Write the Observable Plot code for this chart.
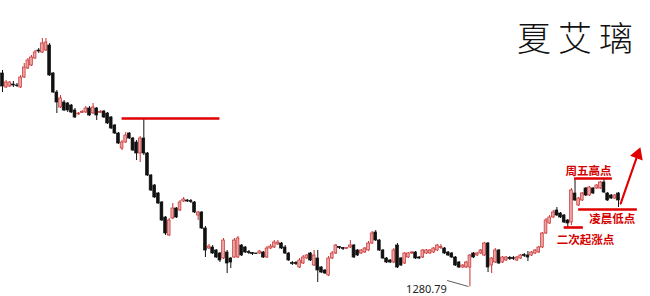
<!DOCTYPE html>
<html><head><meta charset="utf-8">
<script src="https://cdn.jsdelivr.net/npm/d3@7"></script>
<script src="https://cdn.jsdelivr.net/npm/@observablehq/plot@0.6"></script>
<style>
body{margin:0;background:#fff}
#wrap{position:relative;width:650px;height:296px}
#wrap svg{display:block}
#title{position:absolute;left:517px;top:20px;font-family:"Noto Sans CJK SC";font-weight:300;font-size:34px;line-height:34px;letter-spacing:7px;color:#111;white-space:nowrap}
</style>
</head><body><div id="wrap"><div id="title">夏艾璃</div></div>
<script>
const open=[1387.5,1380.5,1381,1382,1381.5,1380.5,1385.5,1390,1391.5,1395,1399,1398,1399,1401.5,1387.5,1378,1370.5,1373,1372.5,1371.5,1369,1367,1367.75,1368,1370,1367.5,1370,1367.75,1368.5,1367.5,1365.5,1361.5,1357.5,1350,1353,1357.5,1355,1353,1347.5,1355,1347.5,1336.5,1331.5,1327.5,1323,1315.5,1306.5,1315,1320,1319,1323.5,1324,1323.75,1323,1316.5,1318,1310,1300,1300.5,1299,1297.5,1295,1298,1295,1295.5,1295.5,1301.5,1300.5,1298.25,1297.75,1297.5,1297.5,1298,1295.5,1300,1300.5,1302,1302.5,1300.5,1297.5,1292.75,1292.75,1290.5,1292.5,1295,1297.5,1291.5,1295,1290.5,1289,1286.5,1295,1297.5,1300.75,1300.25,1299.75,1300.5,1301.5,1299,1297.5,1298,1299,1302.5,1308,1304,1299,1295,1294,1293,1301.5,1295,1292.5,1295.5,1297.5,1298,1295.5,1295.5,1297.5,1297.5,1298,1299,1300.25,1300,1298,1297.5,1295.5,1293,1290.5,1290.5,1290.5,1297.5,1296.5,1297.5,1296.5,1302.5,1291.5,1293,1299,1293,1294,1295.25,1295.25,1294,1295,1296.75,1296.5,1296.5,1297.5,1298,1300.5,1307.5,1312.5,1315.5,1319,1317.5,1316.5,1314,1313,1327.5,1321.5,1324,1330,1326.5,1330,1330,1330,1333,1327.5,1326.5,1325,1327.5];
const close=[1381,1383,1383,1381.5,1381.25,1385.5,1390.5,1394,1395.5,1398,1398.5,1402.5,1403,1386.5,1378,1373,1375,1369,1369,1368,1365.5,1367.5,1368.25,1370,1366.5,1370.5,1366.5,1368.25,1365.5,1362.5,1360,1357.5,1352.5,1353,1356.5,1355,1349,1347.5,1355,1347.5,1336.5,1329,1325.5,1322.5,1314,1307.5,1314,1320,1315.5,1323,1324.5,1323.5,1323.25,1318,1318,1310,1299,1301,1297.5,1295.5,1294,1304,1292.5,1293,1304,1305,1296.5,1298,1297.75,1297.25,1297.25,1298.5,1295.5,1300,1301,1303,1303,1300,1297.5,1294,1292.25,1292.25,1294,1295.5,1296.5,1294,1296.5,1289,1288,1287.5,1295,1297.5,1301.5,1300.25,1299.75,1300.25,1301.5,1295.5,1296.5,1299,1300,1302.5,1307.5,1304,1299,1295,1293,1293,1299,1290.5,1291.5,1297.5,1297.5,1298,1295,1295,1299,1299,1299,1300,1301.5,1300.75,1297.5,1296.5,1295.5,1291.5,1290.5,1291.5,1293,1296.5,1295.5,1297.5,1299,1302.5,1290.5,1295,1299,1292.5,1295.5,1295.5,1294.75,1294.75,1295.5,1296.5,1296.25,1295.5,1298,1299,1300.5,1307.5,1314,1315.5,1318,1316.5,1315.5,1313,1312.5,1329,1324,1325,1327.5,1326.5,1330.5,1327.5,1331.5,1333,1328,1324,1325,1326.5,1324];
const high=[1389,1384,1383.5,1383.5,1382.5,1386.5,1392.5,1395,1396.5,1399,1400,1405,1405,1402.5,1388,1379,1376.5,1374,1373,1372,1370,1368,1369,1371,1371,1372.5,1370.5,1369,1369,1368,1366,1362,1358,1354,1358,1358,1355.5,1354,1356,1365,1348,1337,1332,1328,1323.5,1316,1315,1322.5,1320.5,1324,1325.5,1324.5,1324.5,1323.5,1318.5,1318.5,1311,1302,1301.5,1299.5,1298,1305,1299,1295.5,1305,1306,1302,1301,1299,1298,1297.6,1299,1298.5,1301,1302,1304,1304,1303,1301.5,1298,1293.5,1293.5,1295,1296.5,1297,1298,1299,1299,1291,1289.5,1296,1298.5,1302,1301,1300.5,1300.5,1304,1302,1299.5,1299.5,1300.5,1303.5,1308.5,1309,1304.5,1299.5,1295.5,1294.5,1300,1302.5,1295.5,1298,1298,1298.5,1298.5,1296,1299.5,1299.5,1299.5,1300.5,1302,1302,1300.5,1298.5,1298,1296,1293.5,1292,1293.5,1297,1298,1298,1299.5,1303,1303,1295.5,1300,1299.5,1296,1296,1296,1296,1296,1297,1297.5,1298.5,1298.5,1299.5,1301,1308,1315,1316.5,1319,1320.5,1318,1317,1314.5,1330,1335,1325.5,1328,1330.5,1331,1330.5,1332,1333.5,1335,1328,1327,1327,1328];
const low=[1378,1380,1380.5,1380.5,1380.5,1380,1385,1389.5,1391,1394.5,1397.5,1397.5,1398.5,1386,1377.5,1367.5,1370,1368.5,1368,1367.5,1365,1366.5,1367.5,1367.5,1366,1367,1364,1367.5,1365,1362,1359.5,1357,1352,1349,1352.5,1354.5,1348.5,1344,1343,1346.5,1336,1328.5,1325,1322,1313.5,1306.5,1306,1314.5,1315,1318.5,1323,1323,1322.5,1317.5,1314,1309.5,1295.5,1299.5,1297,1295,1293,1294.5,1287.5,1290,1295,1295,1296,1297.5,1297,1296.5,1297.1,1297,1295,1295,1299.5,1300,1301.5,1299.5,1297,1293.5,1291.5,1291.5,1290,1292,1294.5,1293.5,1291,1283,1287.5,1287,1286,1294.5,1297,1299.5,1299,1299.5,1300,1295,1296,1297,1297.5,1298.5,1302,1303.5,1298.5,1294.5,1292.5,1292.5,1292.5,1290,1291,1292,1295,1297,1294.5,1294.5,1295,1297,1297,1297.5,1298.5,1299.5,1297,1296,1295,1291,1290,1290,1290,1280.79,1295,1296,1297,1296,1288,1287.5,1292.5,1292,1292.5,1293.5,1294,1294,1293.5,1294.5,1295.5,1293.5,1296,1297,1297.5,1300,1307,1312,1315,1316,1315,1312.5,1310.5,1311.5,1323.5,1321,1323.5,1326,1326,1327,1329.5,1329.5,1327.5,1323.5,1324.5,1324.5,1320.5];

// annotation levels (price) and spans (candle index)
const levelLines=[
  {level:1365,from:33,to:60},
  {level:1310.5,from:155,to:160.3},
  {level:1335,from:157.9,to:168.3},
  {level:1319.5,from:159,to:175.2}
];
const notes=[
  {text:"周五高点",i:161.7,p:1338.5},
  {text:"凌晨低点",i:168.3,p:1314.5},
  {text:"二次起涨点",i:160.9,p:1304}
];
const arrowData=[{i1:170.6,p1:1322.5,i2:175.3,p2:1347}];
const lowNote={text:"1280.79",i:117,p:1279.5,li1:122.7,lp1:1284,li2:128.6,lp2:1281};

const RED="#c93030", PINK="#eba3a3", BLK="#111", ANN="#e00000";
const candles=open.map((o,i)=>({i,open:o,close:close[i],high:high[i],low:low[i],up:close[i]>=o}));

const chart=Plot.plot({
  width:650,height:296,margin:0,
  x:{domain:[0,170],range:[2,618],axis:null},
  y:{domain:[1276,1424],axis:null},
  marks:[
    Plot.ruleX(candles,{x:"i",y1:"low",y2:"high",stroke:d=>d.up?RED:BLK,strokeWidth:1}),
    Plot.rect(candles,{x1:d=>d.i-0.38,x2:d=>d.i+0.38,y1:"open",y2:"close",
      fill:d=>d.up?PINK:BLK,stroke:d=>d.up?RED:BLK,strokeWidth:0.7}),
    Plot.ruleY(levelLines,{y:"level",x1:"from",x2:"to",stroke:ANN,strokeWidth:2.6}),
    Plot.arrow(arrowData,{x1:"i1",y1:"p1",x2:"i2",y2:"p2",stroke:ANN,strokeWidth:2.2,headLength:0}),
    Plot.dot(arrowData,{x:"i2",y:"p2",symbol:"triangle",r:5,fill:ANN,stroke:"none",rotate:20}),
    Plot.text(notes,{x:"i",y:"p",text:"text",fill:"#d40000",fontSize:11.5,fontWeight:"bold",fontFamily:"Noto Sans CJK SC"}),
    Plot.link([lowNote],{x1:"li1",y1:"lp1",x2:"li2",y2:"lp2",stroke:"#333",strokeWidth:0.8}),
    Plot.text([lowNote],{x:"i",y:"p",text:"text",fill:"#222",fontSize:11,fontFamily:"Noto Sans"})
  ]
});
document.getElementById("wrap").prepend(chart);
</script>
</body></html>
